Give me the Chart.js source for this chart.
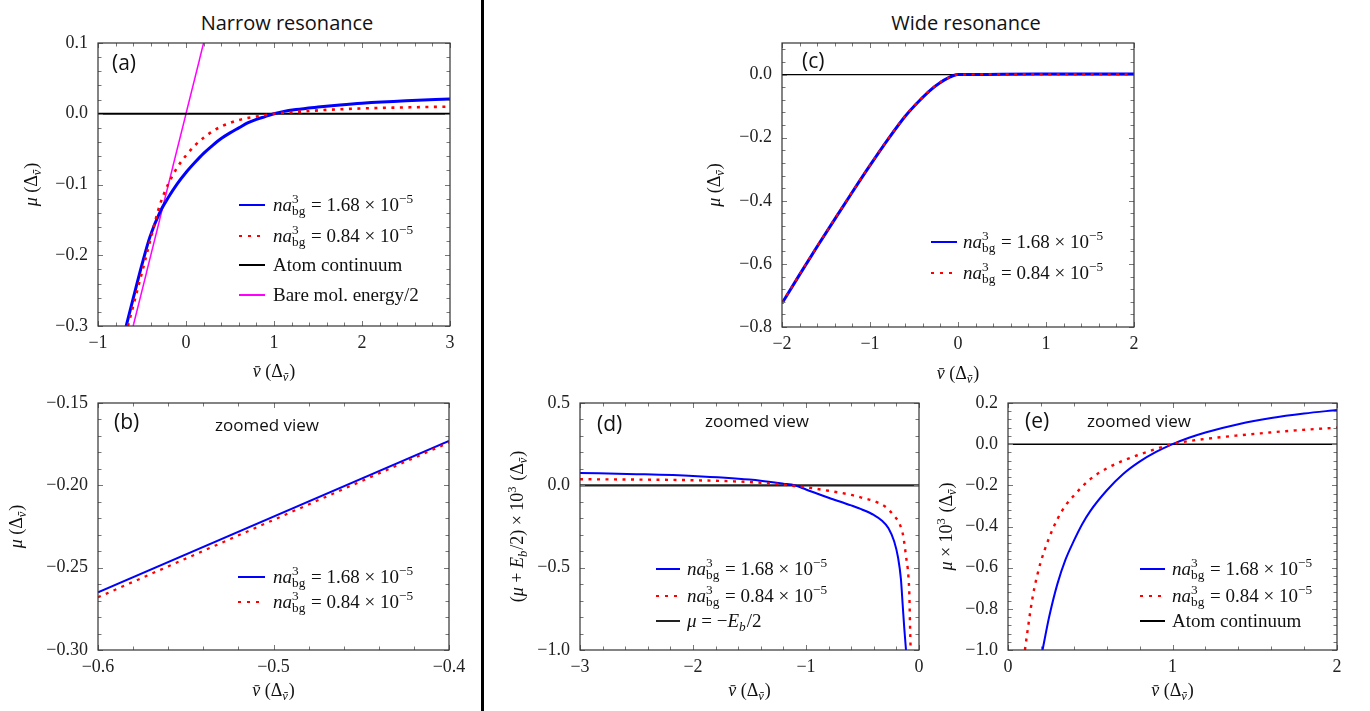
<!DOCTYPE html>
<html>
<head>
<meta charset="utf-8">
<script src="https://cdn.jsdelivr.net/npm/chart.js@4.4.1/dist/chart.umd.min.js"></script>
<style>
  body { margin: 0; background: #fff; }
  #wrap { position: relative; width: 1370px; height: 711px; overflow: hidden; }
  #wrap canvas { position: absolute; left: 0; top: 0; }
  #divider { position: absolute; left: 481px; top: 0; width: 3px; height: 711px; background: #000; }
  .ttl { position: absolute; width: 240px; text-align: center; font-family: "Open Sans", "Noto Sans", sans-serif; font-size: 20px; line-height: 28px; color: #111; }
</style>
</head>
<body>
<div id="wrap">
  <div class="ttl" style="left:167px; top:9px;">Narrow resonance</div>
  <div class="ttl" style="left:846px; top:9px;">Wide resonance</div>
  <div id="divider"></div>
  <canvas id="chartA" width="1370" height="711"></canvas>
  <canvas id="chartB" width="1370" height="711"></canvas>
  <canvas id="chartC" width="1370" height="711"></canvas>
  <canvas id="chartD" width="1370" height="711"></canvas>
  <canvas id="chartE" width="1370" height="711"></canvas>
</div>
<script>
// ---- data ----

// (a) narrow resonance
const aBlueX = [-0.68, -0.6, -0.5, -0.41, -0.3, -0.2, -0.1, 0.0, 0.1, 0.2, 0.3, 0.4, 0.5, 0.6, 0.7, 0.8, 0.9, 1.0, 1.1, 1.25, 1.5, 1.75, 2.0, 2.5, 3.0];
const aBlueY = [-0.3, -0.261, -0.213, -0.174, -0.14, -0.118, -0.099, -0.083, -0.069, -0.056, -0.045, -0.035, -0.027, -0.02, -0.013, -0.008, -0.004, 0.0, 0.003, 0.006, 0.0095, 0.0125, 0.015, 0.0185, 0.021];
const aRedX = [-0.66, -0.5, -0.4, -0.35, -0.3, -0.25, -0.2, -0.1, 0.0, 0.1, 0.2, 0.3, 0.4, 0.5, 0.6, 0.7, 0.8, 0.9, 1.0, 1.3, 1.6, 2.0, 2.5, 3.0];
const aRedY = [-0.3, -0.224, -0.176, -0.152, -0.13, -0.113, -0.099, -0.076, -0.059, -0.045, -0.034, -0.025, -0.018, -0.013, -0.009, -0.006, -0.004, -0.002, 0.0, 0.003, 0.0055, 0.0075, 0.009, 0.01];
const aBareX = [-0.6, 0.2];
const aBareY = [-0.3, 0.1];
const aAtomX = [-1, 3];
const aAtomY = [0, 0];
const aXTicks = [-1, 0, 1, 2, 3];
const aYTicks = [-0.3, -0.2, -0.1, 0.0, 0.1];

// (b) narrow, zoomed
const bX = [-0.6, -0.4];
const bBlueY = [-0.265, -0.173];
const bRedY = [-0.268, -0.174];
const bXTicks = [-0.6, -0.5, -0.4];
const bYTicks = [-0.30, -0.25, -0.20, -0.15];

// (c) wide resonance
const cX = [-2, -1.8, -1.6, -1.4, -1.2, -1.0, -0.8, -0.6, -0.45, -0.3, -0.2, -0.1, -0.05, 0, 0.1, 0.5, 1, 1.5, 2];
const cBlueY = [-0.725, -0.634, -0.545, -0.458, -0.372, -0.288, -0.207, -0.132, -0.086, -0.046, -0.025, -0.009, -0.003, 0.0, 0.0, 0.001, 0.0015, 0.002, 0.002];
const cRedY = [-0.724, -0.633, -0.544, -0.457, -0.371, -0.287, -0.206, -0.131, -0.085, -0.045, -0.024, -0.009, -0.003, 0.0, 0.0, 0.001, 0.001, 0.001, 0.001];
const cAtomX = [-2, 2];
const cAtomY = [0, 0];
const cXTicks = [-2, -1, 0, 1, 2];
const cYTicks = [-0.8, -0.6, -0.4, -0.2, 0.0];

// (d) wide, zoomed around -Eb/2
const dBlueX = [-3, -2.5, -2, -1.5, -1.2, -1.1, -1, -0.8, -0.6, -0.5, -0.4, -0.33, -0.27, -0.22, -0.185, -0.16, -0.144, -0.13, -0.115];
const dBlueY = [0.075, 0.068, 0.057, 0.035, 0.01, 0.0, -0.025, -0.075, -0.122, -0.148, -0.18, -0.213, -0.26, -0.34, -0.44, -0.57, -0.73, -0.87, -1.0];
const dRedX = [-3, -2.5, -2, -1.5, -1.25, -1.15, -1, -0.8, -0.6, -0.49, -0.39, -0.3, -0.227, -0.168, -0.139, -0.115, -0.094, -0.085, -0.08, -0.074];
const dRedY = [0.037, 0.035, 0.031, 0.02, 0.008, 0.0, -0.012, -0.033, -0.058, -0.078, -0.098, -0.129, -0.18, -0.24, -0.31, -0.43, -0.55, -0.67, -0.83, -1.0];
const dLineX = [-3, 0];
const dLineY = [0, 0];
const dXTicks = [-3, -2, -1, 0];
const dYTicks = [-1.0, -0.5, 0.0, 0.5];

// (e) wide, zoomed near continuum
const eBlueX = [0.21, 0.25, 0.3, 0.35, 0.4, 0.45, 0.5, 0.6, 0.7, 0.8, 0.9, 1.0, 1.1, 1.2, 1.4, 1.6, 1.8, 2.0];
const eBlueY = [-1.0, -0.84, -0.68, -0.56, -0.47, -0.39, -0.325, -0.225, -0.145, -0.085, -0.038, 0.0, 0.031, 0.057, 0.097, 0.127, 0.149, 0.166];
const eRedX = [0.103, 0.12, 0.14, 0.16, 0.18, 0.2, 0.25, 0.3, 0.35, 0.4, 0.5, 0.6, 0.7, 0.8, 0.9, 1.0, 1.1, 1.25, 1.5, 1.75, 2.0];
const eRedY = [-1.0, -0.9, -0.79, -0.7, -0.63, -0.57, -0.455, -0.365, -0.298, -0.25, -0.17, -0.118, -0.08, -0.05, -0.023, 0.0, 0.015, 0.03, 0.05, 0.067, 0.08];
const eAtomX = [0, 2];
const eAtomY = [0, 0];
const eXTicks = [0, 1, 2];
const eYTicks = [-1.0, -0.8, -0.6, -0.4, -0.2, 0.0, 0.2];

// ---- styling helpers ----
const SERIF = '"Liberation Serif", "DejaVu Serif", serif';
const SANS = '"Open Sans", "Noto Sans", sans-serif';
const BLUE = '#0000ff', RED = '#ff0000', BLACK = '#000000', MAGENTA = '#ff00ff';
const RED_DASH = [3, 5.5];
const YW = 80, XH = 30;

function fnt(size, it) { return (it ? 'italic ' : '') + size + 'px ' + SERIF; }

function segWidth(ctx, s, size) {
  if (s.t !== undefined) { ctx.font = fnt(size, s.i); return ctx.measureText(s.t).width; }
  const small = size * 0.7;
  let w = 0;
  if (s.sup) { ctx.font = fnt(small, s.si); w = Math.max(w, ctx.measureText(s.sup).width); }
  if (s.sub) { ctx.font = fnt(small, s.bi); w = Math.max(w, ctx.measureText(s.sub).width); }
  return w + 1;
}
function richWidth(ctx, segs, size) {
  return segs.reduce((a, s) => a + segWidth(ctx, s, size), 0);
}
// draws a left-aligned run of text pieces, y is the baseline
function drawRich(ctx, segs, x, y, size) {
  ctx.textAlign = 'left';
  ctx.textBaseline = 'alphabetic';
  segs.forEach(s => {
    const w = segWidth(ctx, s, size);
    if (s.t !== undefined) {
      ctx.font = fnt(size, s.i);
      ctx.fillText(s.t, x, y);
      if (s.bar) ctx.fillRect(x + w * 0.3, y - size * 0.6, w * 0.6, size * 0.055);
    } else {
      const small = size * 0.7;
      if (s.sup) { ctx.font = fnt(small, s.si); ctx.fillText(s.sup, x, y - size * 0.4); }
      if (s.sub) {
        const ys = y + size * 0.22;
        ctx.font = fnt(small, s.bi);
        ctx.fillText(s.sub, x, ys);
        if (s.bbar) ctx.fillRect(x + w * 0.3, ys - small * 0.62, w * 0.55, small * 0.07);
      }
    }
    x += w;
  });
}

// text pieces
const xTitle = [{ t: 'ν', i: true, bar: true }, { t: ' (Δ' }, { sub: 'ν', bi: true, bbar: true }, { t: ')' }];
const muTitle = [{ t: 'μ', i: true }, { t: ' (Δ' }, { sub: 'ν', bi: true, bbar: true }, { t: ')' }];
const dTitle = [{ t: '(' }, { t: 'μ', i: true }, { t: ' + ' }, { t: 'E', i: true }, { sub: 'b', bi: true }, { t: '/2) × 10' }, { sup: '3' }, { t: ' (Δ' }, { sub: 'ν', bi: true, bbar: true }, { t: ')' }];
const eTitle = [{ t: 'μ', i: true }, { t: ' × 10' }, { sup: '3' }, { t: ' (Δ' }, { sub: 'ν', bi: true, bbar: true }, { t: ')' }];
const legHigh = [{ t: 'na', i: true }, { sup: '3', sub: 'bg' }, { t: ' = 1.68 × 10' }, { sup: '−5' }];
const legLow = [{ t: 'na', i: true }, { sup: '3', sub: 'bg' }, { t: ' = 0.84 × 10' }, { sup: '−5' }];
const legAtom = [{ t: 'Atom continuum' }];
const legBare = [{ t: 'Bare mol. energy/2' }];
const legEb = [{ t: 'μ', i: true }, { t: ' = −' }, { t: 'E', i: true }, { sub: 'b', bi: true }, { t: '/2' }];

function fmt(v, d) {
  const s = Math.abs(v) < 1e-12 ? (0).toFixed(d) : v.toFixed(d);
  return s.replace('-', '−');
}

function pts(xs, ys) { return xs.map((x, i) => ({ x: x, y: ys[i] })); }

// frame, inward ticks, tick labels, legend, labels and axis titles
function decoPlugin(cfg) {
  return {
    id: 'deco',
    afterDraw(chart) {
      const { ctx, chartArea: a, scales: { x, y } } = chart;
      ctx.save();
      ctx.strokeStyle = '#777';
      ctx.lineWidth = 1;
      ctx.setLineDash([]);
      ctx.beginPath();
      let n = Math.floor((cfg.xMax - cfg.xMin) / cfg.xMinor + 1e-6);
      for (let k = 0; k <= n; k++) {
        const v = cfg.xMin + k * cfg.xMinor;
        const major = cfg.xTicks.some(t => Math.abs(t - v) < 1e-9);
        const L = major ? 5 : 3.5;
        const px = Math.round(x.getPixelForValue(v)) + 0.5;
        ctx.moveTo(px, a.bottom); ctx.lineTo(px, a.bottom - L);
        ctx.moveTo(px, a.top); ctx.lineTo(px, a.top + L);
      }
      n = Math.floor((cfg.yMax - cfg.yMin) / cfg.yMinor + 1e-6);
      for (let k = 0; k <= n; k++) {
        const v = cfg.yMin + k * cfg.yMinor;
        const major = cfg.yTicks.some(t => Math.abs(t - v) < 1e-9);
        const L = major ? 5 : 3.5;
        const py = Math.round(y.getPixelForValue(v)) + 0.5;
        ctx.moveTo(a.left, py); ctx.lineTo(a.left + L, py);
        ctx.moveTo(a.right, py); ctx.lineTo(a.right - L, py);
      }
      ctx.stroke();
      ctx.strokeStyle = '#333';
      ctx.lineWidth = 1.2;
      ctx.strokeRect(a.left, a.top, a.right - a.left, a.bottom - a.top);

      // tick labels
      ctx.fillStyle = '#222';
      ctx.font = fnt(18, false);
      ctx.textAlign = 'center';
      ctx.textBaseline = 'top';
      cfg.xTicks.forEach(v => ctx.fillText(fmt(v, cfg.xDec), x.getPixelForValue(v), a.bottom + 8));
      ctx.textAlign = 'right';
      ctx.textBaseline = 'middle';
      cfg.yTicks.forEach(v => ctx.fillText(fmt(v, cfg.yDec), a.left - 10, y.getPixelForValue(v)));

      // legend
      const lg = cfg.legend;
      lg.rows.forEach((r, i) => {
        const ly = lg.ys[i];
        ctx.strokeStyle = r.color;
        ctx.lineWidth = r.w;
        ctx.setLineDash(r.dash || []);
        ctx.beginPath();
        ctx.moveTo(lg.x0, ly); ctx.lineTo(lg.x1, ly);
        ctx.stroke();
        ctx.setLineDash([]);
        ctx.fillStyle = '#111';
        drawRich(ctx, r.segs, lg.tx, ly + 6, 19);
      });

      // panel label and note
      ctx.fillStyle = '#111';
      ctx.font = '21px ' + SANS;
      ctx.textAlign = 'left';
      ctx.textBaseline = 'middle';
      ctx.fillText(cfg.label, cfg.labelPos[0], cfg.labelPos[1]);
      if (cfg.note) {
        ctx.font = '17px ' + SANS;
        ctx.textAlign = 'center';
        ctx.fillText(cfg.note, cfg.notePos[0], cfg.notePos[1]);
      }

      // axis titles
      const cx = (a.left + a.right) / 2;
      const wx = richWidth(ctx, xTitle, 18);
      drawRich(ctx, xTitle, cx - wx / 2, cfg.xTitleY, 18);
      const wy = richWidth(ctx, cfg.yTitle, 18);
      ctx.save();
      ctx.translate(cfg.yTitleX, (a.top + a.bottom) / 2);
      ctx.rotate(-Math.PI / 2);
      drawRich(ctx, cfg.yTitle, -wy / 2, 0, 18);
      ctx.restore();
      ctx.restore();
    }
  };
}

function makeChart(id, cfg) {
  const [L, T, R, B] = cfg.area;
  return new Chart(document.getElementById(id), {
    type: 'line',
    data: {
      datasets: cfg.series.map(s => ({
        data: pts(s.x, s.y),
        borderColor: s.color,
        borderWidth: s.w,
        borderDash: s.dash || [],
        pointRadius: 0,
        fill: false,
        tension: 0,
        cubicInterpolationMode: s.smooth ? 'monotone' : 'default',
        clip: 0,
        order: s.order
      }))
    },
    options: {
      responsive: false,
      animation: false,
      events: [],
      layout: { padding: { left: L - YW, top: T, right: 1370 - R, bottom: 711 - B - XH } },
      plugins: { legend: { display: false }, tooltip: { enabled: false } },
      scales: {
        x: {
          type: 'linear',
          min: cfg.xMin, max: cfg.xMax,
          afterFit: s => { s.height = XH; },
          afterBuildTicks: s => { s.ticks = cfg.xTicks.map(v => ({ value: v })); },
          grid: { display: false, drawTicks: false },
          border: { display: false },
          ticks: { display: false }
        },
        y: {
          type: 'linear',
          min: cfg.yMin, max: cfg.yMax,
          afterFit: s => { s.width = YW; },
          afterBuildTicks: s => { s.ticks = cfg.yTicks.map(v => ({ value: v })); },
          grid: { display: false, drawTicks: false },
          border: { display: false },
          ticks: { display: false }
        }
      }
    },
    plugins: [decoPlugin(cfg)]
  });
}

// Panel (a)
makeChart('chartA', {
  area: [98, 43, 450, 326],
  xMin: -1, xMax: 3, xTicks: aXTicks, xDec: 0, xMinor: 0.2,
  yMin: -0.3, yMax: 0.1, yTicks: aYTicks, yDec: 1, yMinor: 0.02,
  series: [
    { x: aRedX, y: aRedY, color: RED, w: 2.6, dash: RED_DASH, smooth: true, order: 0 },
    { x: aBlueX, y: aBlueY, color: BLUE, w: 3, smooth: true, order: 1 },
    { x: aAtomX, y: aAtomY, color: BLACK, w: 1.8, order: 2 },
    { x: aBareX, y: aBareY, color: MAGENTA, w: 1.5, order: 3 }
  ],
  legend: {
    x0: 239, x1: 265, tx: 273, ys: [205, 236, 265, 295],
    rows: [
      { color: BLUE, w: 2, segs: legHigh },
      { color: RED, w: 2, dash: [3, 6], segs: legLow },
      { color: BLACK, w: 2, segs: legAtom },
      { color: MAGENTA, w: 2, segs: legBare }
    ]
  },
  label: '(a)', labelPos: [112, 64],
  xTitleY: 377, yTitleX: 37, yTitle: muTitle
});

// Panel (b)
makeChart('chartB', {
  area: [98, 403, 449, 650],
  xMin: -0.6, xMax: -0.4, xTicks: bXTicks, xDec: 1, xMinor: 0.02,
  yMin: -0.3, yMax: -0.15, yTicks: bYTicks, yDec: 2, yMinor: 0.01,
  series: [
    { x: bX, y: bRedY, color: RED, w: 2.2, dash: RED_DASH, order: 0 },
    { x: bX, y: bBlueY, color: BLUE, w: 2, order: 1 }
  ],
  legend: {
    x0: 238, x1: 265, tx: 273, ys: [577, 602],
    rows: [
      { color: BLUE, w: 2, segs: legHigh },
      { color: RED, w: 2, dash: [3, 6], segs: legLow }
    ]
  },
  label: '(b)', labelPos: [114, 423],
  note: 'zoomed view', notePos: [267, 426],
  xTitleY: 696, yTitleX: 22, yTitle: muTitle
});

// Panel (c)
makeChart('chartC', {
  area: [782, 43, 1134, 327],
  xMin: -2, xMax: 2, xTicks: cXTicks, xDec: 0, xMinor: 0.2,
  yMin: -0.8, yMax: 0.1, yTicks: cYTicks, yDec: 1, yMinor: 0.04,
  series: [
    { x: cX, y: cRedY, color: RED, w: 2.2, dash: RED_DASH, smooth: true, order: 0 },
    { x: cX, y: cBlueY, color: BLUE, w: 3, smooth: true, order: 1 },
    { x: cAtomX, y: cAtomY, color: BLACK, w: 1.3, order: 2 }
  ],
  legend: {
    x0: 931, x1: 957, tx: 963, ys: [242, 273],
    rows: [
      { color: BLUE, w: 2, segs: legHigh },
      { color: RED, w: 2, dash: [3, 6], segs: legLow }
    ]
  },
  label: '(c)', labelPos: [802, 62],
  xTitleY: 379, yTitleX: 720, yTitle: muTitle
});

// Panel (d)
makeChart('chartD', {
  area: [580, 403, 919, 650],
  xMin: -3, xMax: 0, xTicks: dXTicks, xDec: 0, xMinor: 0.2,
  yMin: -1, yMax: 0.5, yTicks: dYTicks, yDec: 1, yMinor: 0.1,
  series: [
    { x: dRedX, y: dRedY, color: RED, w: 2.4, dash: RED_DASH, smooth: true, order: 0 },
    { x: dBlueX, y: dBlueY, color: BLUE, w: 2, smooth: true, order: 1 },
    { x: dLineX, y: dLineY, color: '#222', w: 2.2, order: 2 }
  ],
  legend: {
    x0: 656, x1: 680, tx: 687, ys: [569, 596, 621],
    rows: [
      { color: BLUE, w: 2, segs: legHigh },
      { color: RED, w: 2, dash: [3, 6], segs: legLow },
      { color: '#222', w: 2, segs: legEb }
    ]
  },
  label: '(d)', labelPos: [597, 425],
  note: 'zoomed view', notePos: [757, 422],
  xTitleY: 696, yTitleX: 523, yTitle: dTitle
});

// Panel (e)
makeChart('chartE', {
  area: [1008, 403, 1337, 650],
  xMin: 0, xMax: 2, xTicks: eXTicks, xDec: 0, xMinor: 0.2,
  yMin: -1, yMax: 0.2, yTicks: eYTicks, yDec: 1, yMinor: 0.04,
  series: [
    { x: eRedX, y: eRedY, color: RED, w: 2.4, dash: RED_DASH, smooth: true, order: 0 },
    { x: eBlueX, y: eBlueY, color: BLUE, w: 2, smooth: true, order: 1 },
    { x: eAtomX, y: eAtomY, color: BLACK, w: 1.5, order: 2 }
  ],
  legend: {
    x0: 1140, x1: 1165, tx: 1172, ys: [569, 596, 621],
    rows: [
      { color: BLUE, w: 2, segs: legHigh },
      { color: RED, w: 2, dash: [3, 6], segs: legLow },
      { color: BLACK, w: 2, segs: legAtom }
    ]
  },
  label: '(e)', labelPos: [1025, 422],
  note: 'zoomed view', notePos: [1139, 422],
  xTitleY: 696, yTitleX: 952, yTitle: eTitle
});
</script>
</body>
</html>
